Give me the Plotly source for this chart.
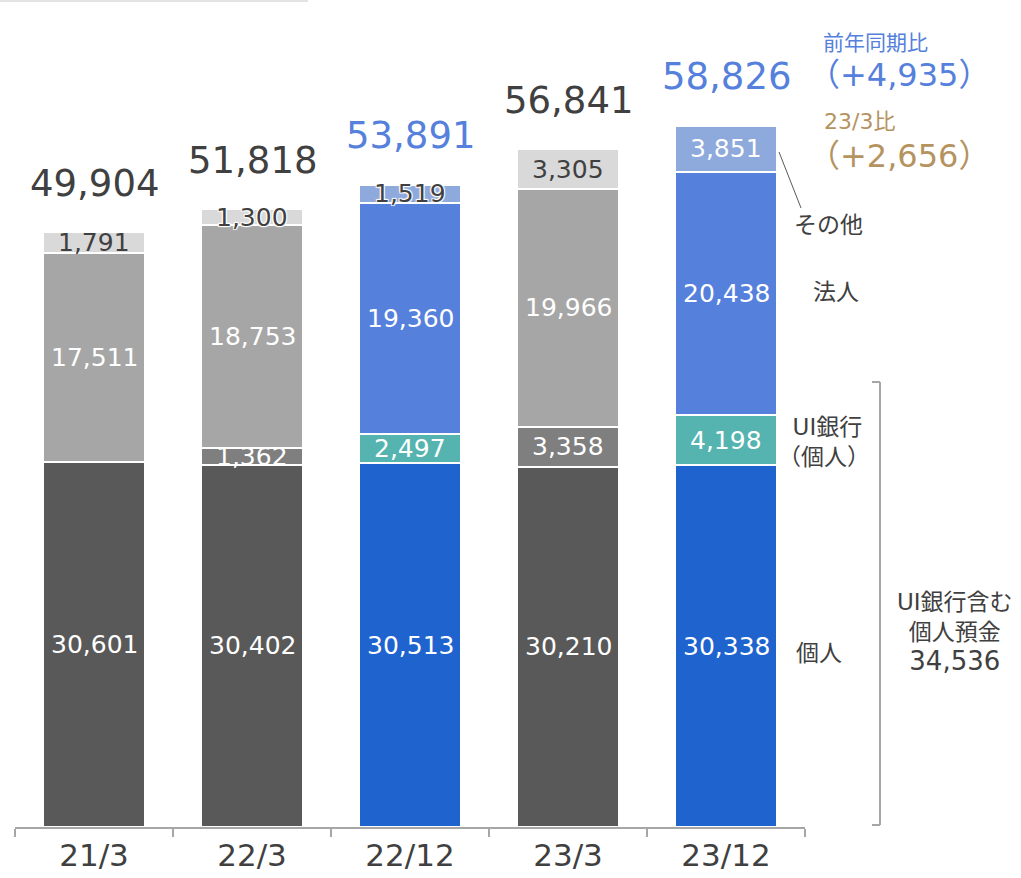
import plotly.graph_objects as go

# 預金残高（億円）
categories = ['21/3', '22/3', '22/12', '23/3', '23/12']
kojin = [30601, 30402, 30513, 30210, 30338]
ui_bank = [0, 1362, 2497, 3358, 4198]
hojin = [17511, 18753, 19360, 19966, 20438]
sonota = [1791, 1300, 1519, 3305, 3851]
totals = [49904, 51818, 53891, 56841, 58826]
total_blue = [False, False, True, False, True]

NUM_FONT = 'DejaVu Sans, Noto Sans CJK JP, sans-serif'
JP_FONT = 'Noto Sans CJK JP, sans-serif'
DARK = '#404040'
BLUE_TXT = '#5580DC'
TAN = '#B5935F'

is_new = [c in ('22/12', '23/12') for c in categories]
col_kojin = ['#1F63CF' if n else '#595959' for n in is_new]
col_ui = ['#55B4B0' if n else '#7F7F7F' for n in is_new]
col_hojin = ['#5580DC' if n else '#A6A6A6' for n in is_new]
col_sonota = ['#8EA9DB' if n else '#D9D9D9' for n in is_new]

W, H = 1021, 878
L, R, T, B = 15, 216, 20, 51
Y_MAX = 67700


def px_x(p):
    return (p - L) / (W - L - R)


def px_y(p):
    return 1 - (p - T) / (H - T - B)


fig = go.Figure()
series = [
    ('個人', kojin, col_kojin),
    ('UI銀行（個人）', ui_bank, col_ui),
    ('法人', hojin, col_hojin),
    ('その他', sonota, col_sonota),
]
for name, vals, cols in series:
    fig.add_trace(go.Bar(
        x=categories,
        y=vals,
        name=name,
        marker=dict(color=cols, line=dict(color='white', width=2)),
        width=0.65,
        hoverinfo='skip'
    ))

# 内訳ラベル
shadow = '1px 1px 1px white, -1px -1px 1px white, 1px -1px 1px white, -1px 1px 1px white'
for i in range(len(categories)):
    base = 0
    for name, vals, cols in series:
        v = vals[i]
        if v == 0:
            continue
        if name == 'その他' and v < 1700:
            color, sh = DARK, shadow
        elif name == 'その他' and not is_new[i]:
            color, sh = DARK, 'none'
        else:
            color, sh = 'white', 'none'
        fig.add_annotation(
            x=i, y=base + v / 2, text=f'{v:,}', showarrow=False,
            font=dict(family=NUM_FONT, size=25, color=color, shadow=sh)
        )
        base += v
    fig.add_annotation(
        x=i, y=totals[i], text=f'{totals[i]:,}', showarrow=False,
        yanchor='middle', yshift=49,
        font=dict(family=NUM_FONT, size=37, color=BLUE_TXT if total_blue[i] else DARK)
    )

# 右側の注記
notes = [
    ('前年同期比', 821, 41, 21, BLUE_TXT, JP_FONT),
    ('（+4,935）', 806, 75, 32, BLUE_TXT, NUM_FONT),
    ('23/3比', 822, 122, 22, TAN, NUM_FONT),
    ('（+2,656）', 806, 156, 32, TAN, NUM_FONT),
    ('その他', 792, 223, 23, DARK, JP_FONT),
    ('法人', 811, 290, 23, DARK, JP_FONT),
    ('&nbsp;&nbsp;UI銀行<br>（個人）', 776, 442, 23, DARK, NUM_FONT),
    ('個人', 794, 651, 23, DARK, JP_FONT),
]
for text, x, y, size, color, fam in notes:
    fig.add_annotation(
        xref='paper', yref='paper', x=px_x(x), y=px_y(y), text=text,
        showarrow=False, xanchor='left', yanchor='middle', align='left',
        font=dict(family=fam, size=size, color=color)
    )

fig.add_annotation(
    xref='paper', yref='paper', x=px_x(955), y=px_y(632),
    text='UI銀行含む<br>個人預金<br><span style="font-size:26px">34,536</span>',
    showarrow=False, xanchor='center', yanchor='middle', align='center',
    font=dict(family=NUM_FONT, size=23, color=DARK)
)

# その他の引き出し線
fig.add_shape(type='line', xref='paper', yref='paper',
              x0=px_x(779), y0=px_y(152), x1=px_x(801), y1=px_y(208),
              line=dict(color='#595959', width=1))

# 括弧
for x0, y0, x1, y1 in [(880, 382, 880, 825), (872, 382, 880, 382), (872, 825, 880, 825)]:
    fig.add_shape(type='line', xref='paper', yref='paper',
                  x0=px_x(x0), y0=px_y(y0), x1=px_x(x1), y1=px_y(y1),
                  line=dict(color='#A6A6A6', width=2))

# 左上の罫線
fig.add_shape(type='line', xref='paper', yref='paper',
              x0=px_x(0), y0=px_y(1), x1=px_x(308), y1=px_y(1),
              line=dict(color='#E3E3E3', width=2))

fig.update_layout(
    barmode='stack',
    width=W, height=H,
    margin=dict(l=L, r=R, t=T, b=B, pad=0),
    plot_bgcolor='white',
    paper_bgcolor='white',
    showlegend=False,
    font=dict(family=NUM_FONT, color=DARK),
    xaxis=dict(
        type='category',
        range=[-0.5, len(categories) - 0.5],
        showline=True, linecolor='#A6A6A6', linewidth=1.5,
        ticks='outside', tickson='boundaries', ticklen=8,
        tickcolor='#A6A6A6', tickwidth=1.5,
        tickfont=dict(family=NUM_FONT, size=31, color=DARK),
        showgrid=False, zeroline=False, automargin=False
    ),
    yaxis=dict(
        range=[0, Y_MAX], visible=False, showgrid=False, zeroline=False,
        automargin=False
    ),
)

fig.write_html('out.html', config={'displayModeBar': False},
               post_script="document.body.style.margin='0';")
